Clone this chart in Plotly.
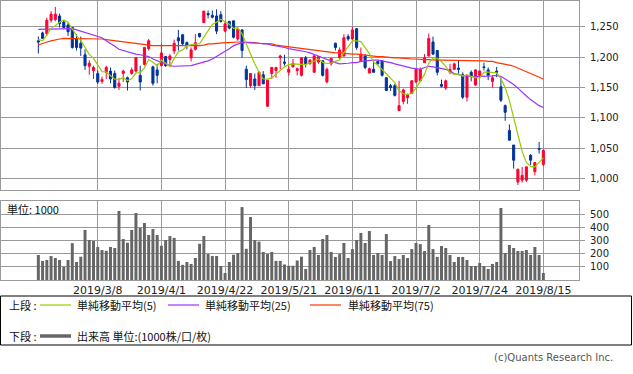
import pandas as pd
import plotly.graph_objects as go

# ---------------- data ----------------
trading_days = {
    2: [18, 19, 20, 21, 22, 25, 26, 27, 28],
    3: [1, 4, 5, 6, 7, 8, 11, 12, 13, 14, 15, 18, 19, 20, 22, 25, 26, 27, 28, 29],
    4: [1, 2, 3, 4, 5, 8, 9, 10, 11, 12, 15, 16, 17, 18, 19, 22, 23, 24, 25, 26],
    5: [7, 8, 9, 10, 13, 14, 15, 16, 17, 20, 21, 22, 23, 24, 27, 28, 29, 30, 31],
    6: [3, 4, 5, 6, 7, 10, 11, 12, 13, 14, 17, 18, 19, 20, 21, 24, 25, 26, 27, 28],
    7: [1, 2, 3, 4, 5, 8, 9, 10, 11, 12, 16, 17, 18, 19, 22, 23, 24, 25, 26, 29, 30, 31],
    8: [1, 2, 5, 6, 7, 8, 9, 13, 14, 15],
}
dates = [f"2019/{m}/{d}" for m, days in trading_days.items() for d in days]

tick_labels = ["2019/3/8", "2019/4/1", "2019/4/22", "2019/5/21",
               "2019/6/11", "2019/7/2", "2019/7/24", "2019/8/15"]

open_ = [1227, 1240, 1239, 1261, 1262, 1268, 1258, 1253, 1249, 1231,
         1223, 1204, 1185, 1178, 1173, 1160, 1175, 1177, 1173, 1152,
         1173, 1166, 1173, 1177, 1170, 1188, 1214, 1184, 1179, 1186,
         1201, 1196, 1210, 1232, 1237, 1224, 1199, 1213, 1239, 1257,
         1272, 1269, 1268, 1270, 1243, 1259, 1260, 1230, 1245, 1180,
         1153, 1164, 1153, 1171, 1119, 1173, 1178, 1199, 1192, 1175,
         1184, 1178, 1170, 1199, 1189, 1175, 1192, 1194, 1159, 1189,
         1223, 1199, 1202, 1234, 1230, 1247, 1194, 1202, 1174, 1180,
         1193, 1194, 1166, 1153, 1153, 1112, 1127, 1133, 1140, 1159,
         1161, 1191, 1202, 1225, 1211, 1155, 1149, 1175, 1180, 1182,
         1171, 1134, 1175, 1154, 1170, 1184, 1179, 1160, 1177, 1151,
         1120, 1079, 1055, 994, 997, 997, 1038, 1011, 1049, 1023]
high = [1234, 1242, 1265, 1276, 1283, 1272, 1261, 1257, 1250, 1238,
        1234, 1213, 1195, 1186, 1178, 1168, 1186, 1183, 1178, 1166,
        1179, 1168, 1183, 1200, 1186, 1216, 1230, 1186, 1189, 1222,
        1202, 1205, 1229, 1245, 1238, 1226, 1216, 1238, 1240, 1276,
        1277, 1277, 1279, 1276, 1260, 1260, 1260, 1249, 1246, 1186,
        1173, 1173, 1177, 1177, 1162, 1184, 1184, 1204, 1204, 1186,
        1197, 1183, 1199, 1202, 1197, 1204, 1202, 1195, 1183, 1199,
        1224, 1216, 1238, 1238, 1250, 1248, 1216, 1205, 1183, 1194,
        1193, 1195, 1167, 1156, 1156, 1161, 1148, 1140, 1162, 1180,
        1183, 1205, 1239, 1234, 1212, 1163, 1163, 1189, 1191, 1194,
        1175, 1172, 1178, 1180, 1178, 1191, 1183, 1170, 1184, 1166,
        1122, 1089, 1055, 1016, 1019, 1019, 1040, 1026, 1060, 1048]
low = [1206, 1230, 1235, 1257, 1259, 1249, 1248, 1235, 1214, 1211,
       1202, 1179, 1171, 1164, 1156, 1156, 1164, 1157, 1148, 1146,
       1159, 1145, 1171, 1175, 1145, 1186, 1211, 1153, 1157, 1186,
       1184, 1184, 1205, 1211, 1220, 1213, 1193, 1211, 1232, 1257,
       1264, 1264, 1238, 1257, 1241, 1246, 1231, 1227, 1199, 1149,
       1149, 1146, 1153, 1156, 1118, 1164, 1166, 1180, 1186, 1170,
       1183, 1170, 1168, 1183, 1188, 1175, 1189, 1168, 1157, 1186,
       1211, 1197, 1201, 1227, 1227, 1212, 1193, 1180, 1173, 1175,
       1188, 1168, 1144, 1144, 1135, 1112, 1122, 1123, 1139, 1157,
       1160, 1191, 1201, 1204, 1170, 1150, 1146, 1172, 1179, 1171,
       1131, 1127, 1160, 1153, 1168, 1178, 1162, 1150, 1167, 1126,
       1095, 1063, 1016, 989, 993, 994, 1022, 1005, 1041, 1020]
close = [1225, 1231, 1261, 1271, 1271, 1255, 1249, 1242, 1216, 1216,
         1215, 1186, 1190, 1183, 1159, 1163, 1183, 1164, 1150, 1157,
         1177, 1159, 1179, 1199, 1159, 1216, 1227, 1157, 1170, 1207,
         1186, 1202, 1223, 1227, 1222, 1219, 1212, 1224, 1234, 1276,
         1270, 1266, 1243, 1259, 1255, 1248, 1233, 1246, 1211, 1163,
         1173, 1153, 1175, 1156, 1162, 1183, 1183, 1202, 1190, 1180,
         1190, 1181, 1199, 1189, 1195, 1202, 1201, 1170, 1180, 1198,
         1216, 1212, 1232, 1230, 1245, 1216, 1205, 1183, 1181, 1175,
         1189, 1170, 1145, 1150, 1137, 1120, 1146, 1138, 1161, 1180,
         1180, 1199, 1231, 1205, 1175, 1152, 1161, 1180, 1189, 1180,
         1134, 1170, 1168, 1179, 1177, 1183, 1170, 1166, 1175, 1129,
         1109, 1063, 1030, 1015, 1005, 1019, 1030, 1026, 1048, 1046]
# closes of the 4 sessions before the first visible one (needed for the 5-day average)
pre_close = [1240, 1215, 1215, 1250]

ma25 = [1246, 1246, 1247, 1247, 1247, 1247, 1247, 1247, 1247, 1245,
        1243, 1241, 1239, 1237, 1235, 1232, 1227, 1223, 1218, 1213,
        1211, 1208, 1207, 1205, 1204, 1203, 1201, 1197, 1194, 1191,
        1189, 1186, 1185, 1185, 1185, 1185, 1186, 1188, 1190, 1191,
        1194, 1197, 1201, 1205, 1210, 1214, 1219, 1222, 1224, 1224,
        1224, 1223, 1223, 1222, 1222, 1220, 1219, 1217, 1216, 1214,
        1213, 1212, 1211, 1209, 1207, 1205, 1202, 1199, 1196, 1194,
        1191, 1189, 1189, 1190, 1191, 1191, 1193, 1194, 1195, 1195,
        1195, 1194, 1193, 1191, 1189, 1187, 1185, 1184, 1182, 1181,
        1180, 1183, 1185, 1184, 1183, 1182, 1180, 1177, 1173, 1171,
        1170, 1168, 1168, 1168, 1168, 1168, 1168, 1169, 1170, 1168,
        1164, 1160, 1155, 1149, 1142, 1136, 1130, 1125, 1120, 1117]
ma75 = [1220, 1223, 1225, 1227, 1229, 1230, 1231, 1231, 1231, 1231,
        1231, 1231, 1231, 1231, 1231, 1230, 1229, 1228, 1227, 1226,
        1225, 1224, 1223, 1222, 1222, 1221, 1220, 1219, 1219, 1219,
        1219, 1219, 1219, 1219, 1218, 1218, 1218, 1218, 1219, 1220,
        1222, 1222, 1223, 1223, 1224, 1224, 1225, 1225, 1225, 1225,
        1224, 1224, 1223, 1223, 1222, 1222, 1220, 1219, 1218, 1217,
        1216, 1216, 1214, 1213, 1212, 1212, 1211, 1210, 1208, 1208,
        1207, 1207, 1206, 1206, 1205, 1205, 1204, 1204, 1202, 1202,
        1201, 1201, 1200, 1200, 1199, 1199, 1198, 1197, 1197, 1197,
        1196, 1196, 1196, 1195, 1195, 1195, 1195, 1194, 1194, 1194,
        1194, 1194, 1194, 1194, 1194, 1194, 1193, 1193, 1191, 1190,
        1189, 1187, 1185, 1182, 1179, 1176, 1173, 1170, 1167, 1164]

volume = [190, 145, 152, 182, 167, 152, 100, 152, 280, 137,
          177, 380, 304, 296, 251, 228, 222, 251, 243, 524,
          311, 283, 380, 509, 395, 433, 342, 387, 342, 260,
          304, 334, 320, 145, 115, 137, 122, 167, 275, 334,
          197, 182, 182, 106, 53, 137, 192, 205, 554, 237,
          478, 304, 291, 213, 197, 213, 145, 145, 118, 108,
          108, 148, 177, 84, 228, 251, 190, 311, 342, 213,
          175, 197, 281, 167, 235, 304, 357, 281, 372, 190,
          205, 190, 349, 144, 182, 159, 190, 167, 235, 281,
          273, 220, 418, 235, 175, 258, 243, 190, 137, 175,
          175, 152, 106, 106, 129, 106, 84, 122, 137, 547,
          205, 266, 243, 220, 220, 228, 190, 251, 190, 53]

price_ticks = [1000, 1050, 1100, 1150, 1200, 1250]
volume_ticks = [100, 200, 300, 400, 500]

ma5 = pd.Series(pre_close + close).rolling(5).mean().iloc[len(pre_close):].tolist()

# ---------------- styling ----------------
W, H = 633, 374
ML, MT = 1, 1
PW, PH = W - ML, H - MT


def px_x(x):
    return (x - ML) / PW


def px_y(y):
    return 1 - (y - MT) / PH


FONT = "Noto Sans CJK JP, Noto Sans, DejaVu Sans"
NUMFONT = "DejaVu Sans"
RED = "#FF0033"
BLUE = "#003399"
C_MA5 = "#99CC00"
C_MA25 = "#9933FF"
C_MA75 = "#FF3300"
GRID = "#9A9A9A"
XR = [-8.8, 127.4]

fig = go.Figure()

fig.add_trace(go.Candlestick(
    x=dates, open=open_, high=high, low=low, close=close,
    increasing=dict(line=dict(color=RED, width=1), fillcolor=RED),
    decreasing=dict(line=dict(color=BLUE, width=1), fillcolor=BLUE),
    whiskerwidth=0, xaxis="x", yaxis="y", showlegend=False, hoverinfo="skip",
))
for ma, col in [(ma75, C_MA75), (ma25, C_MA25), (ma5, C_MA5)]:
    fig.add_trace(go.Scatter(x=dates, y=ma, mode="lines",
                             line=dict(color=col, width=1.2),
                             xaxis="x", yaxis="y", showlegend=False, hoverinfo="skip"))

fig.add_trace(go.Bar(x=dates, y=volume, marker=dict(color="#666666", line=dict(width=0)),
                     xaxis="x2", yaxis="y2", showlegend=False, hoverinfo="skip"))

xcommon = dict(type="category", range=XR, tickmode="array", tickvals=tick_labels,
               ticktext=tick_labels, showgrid=True, gridcolor=GRID, gridwidth=1,
               showline=True, linecolor=GRID, linewidth=1, mirror=True,
               ticks="", zeroline=False, domain=[0, px_x(579)])

ycommon = dict(side="right", tickmode="array", showgrid=True, gridcolor=GRID,
               showline=True, linecolor=GRID, mirror=True, zeroline=False,
               ticks="outside", ticklen=5, tickcolor=GRID, tickwidth=1,
               ticklabelstandoff=3, tickfont=dict(size=10, color="#222222", family=NUMFONT))

fig.update_layout(
    width=W, height=H,
    margin=dict(l=ML, r=0, t=MT, b=0, pad=0),
    paper_bgcolor="white", plot_bgcolor="white",
    font=dict(family=FONT, size=11, color="#222222"),
    bargap=0.3,
    xaxis=dict(**xcommon, anchor="y", showticklabels=False, rangeslider=dict(visible=False)),
    xaxis2=dict(**xcommon, anchor="y2", showticklabels=True,
                tickfont=dict(size=11, color="#222222", family=NUMFONT)),
    yaxis=dict(**ycommon, domain=[px_y(190), 1], range=[980.8, 1292.7],
               tickvals=price_ticks, tickformat=",d", anchor="x"),
    yaxis2=dict(**ycommon, domain=[px_y(280), px_y(201)], range=[0, 600],
                tickvals=volume_ticks, anchor="x2"),
)

shapes = [
    dict(type="rect", xref="paper", yref="paper", x0=px_x(0.5), x1=px_x(631.5),
         y0=px_y(345), y1=px_y(296), line=dict(color="black", width=1)),
    dict(type="line", xref="paper", yref="paper", x0=px_x(40), x1=px_x(71),
         y0=px_y(305), y1=px_y(305), line=dict(color=C_MA5, width=1.2)),
    dict(type="line", xref="paper", yref="paper", x0=px_x(168), x1=px_x(199),
         y0=px_y(305), y1=px_y(305), line=dict(color=C_MA25, width=1.2)),
    dict(type="line", xref="paper", yref="paper", x0=px_x(310), x1=px_x(341),
         y0=px_y(305), y1=px_y(305), line=dict(color=C_MA75, width=1.2)),
    dict(type="line", xref="paper", yref="paper", x0=px_x(40), x1=px_x(71),
         y0=px_y(336), y1=px_y(336), line=dict(color="#666666", width=3.5)),
]
fig.update_layout(shapes=shapes)


def note(text, x, y, size=11, color="#111111", xanchor="left", family=FONT):
    fig.add_annotation(text=text, x=px_x(x), y=px_y(y), xref="paper", yref="paper",
                       showarrow=False, xanchor=xanchor, yanchor="middle",
                       font=dict(size=size, color=color, family=family))


note("単位: 1000", 5, 209)
note("上段 :", 7, 305)
note("単純移動平均(5)", 75, 305)
note("単純移動平均(25)", 203, 305)
note("単純移動平均(75)", 346, 305)
note("下段 :", 7, 336)
note("出来高 単位:(1000株/口/枚)", 75, 336)
note("(c)Quants Research Inc.", 615, 357, size=10, color="#555555", xanchor="right",
     family=NUMFONT)

fig.write_html("out.html",
               config={"displayModeBar": False},
               post_script="document.body.style.margin='0px';document.body.style.padding='0px';")
